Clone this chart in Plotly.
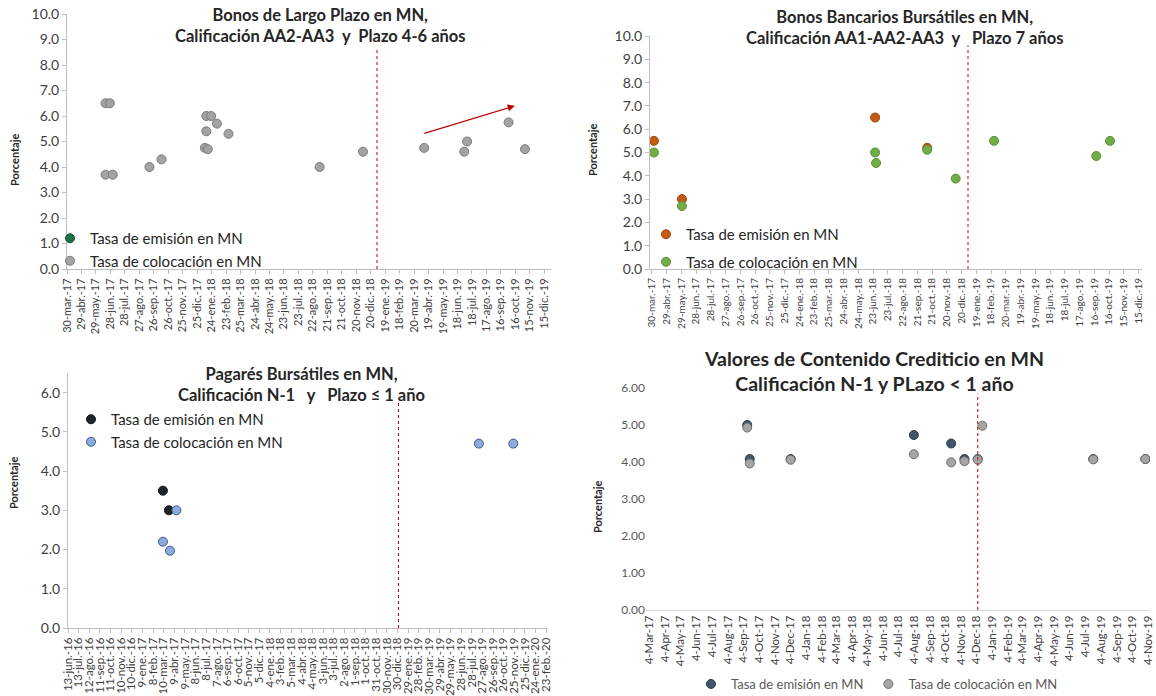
import datetime as dt
import plotly.graph_objects as go

W, H = 1156, 696
FONT = "Lato"

# ---- tick labels -------------------------------------------------------
TICKS_BONOS = ["30-mar.-17", "29-abr.-17", "29-may.-17", "28-jun.-17", "28-jul.-17",
               "27-ago.-17", "26-sep.-17", "26-oct.-17", "25-nov.-17", "25-dic.-17",
               "24-ene.-18", "23-feb.-18", "25-mar.-18", "24-abr.-18", "24-may.-18",
               "23-jun.-18", "23-jul.-18", "22-ago.-18", "21-sep.-18", "21-oct.-18",
               "20-nov.-18", "20-dic.-18", "19-ene.-19", "18-feb.-19", "20-mar.-19",
               "19-abr.-19", "19-may.-19", "18-jun.-19", "18-jul.-19", "17-ago.-19",
               "16-sep.-19", "16-oct.-19", "15-nov.-19", "15-dic.-19"]
TICKS_PAGARES = ["13-jun.-16", "13-jul.-16", "12-ago.-16", "11-sep.-16", "11-oct.-16",
                 "10-nov.-16", "10-dic.-16", "9-ene.-17", "8-feb.-17", "10-mar.-17",
                 "9-abr.-17", "9-may.-17", "8-jun.-17", "8-jul.-17", "7-ago.-17",
                 "6-sep.-17", "6-oct.-17", "5-nov.-17", "5-dic.-17", "4-ene.-18",
                 "3-feb.-18", "5-mar.-18", "4-abr.-18", "4-may.-18", "3-jun.-18",
                 "3-jul.-18", "2-ago.-18", "1-sep.-18", "1-oct.-18", "31-oct.-18",
                 "30-nov.-18", "30-dic.-18", "29-ene.-19", "28-feb.-19", "30-mar.-19",
                 "29-abr.-19", "29-may.-19", "28-jun.-19", "28-jul.-19", "27-ago.-19",
                 "26-sep.-19", "26-oct.-19", "25-nov.-19", "25-dic.-19", "24-ene.-20",
                 "23-feb.-20"]
TICKS_VCC = ["4-Mar-17", "4-Apr-17", "4-May-17", "4-Jun-17", "4-Jul-17", "4-Aug-17",
             "4-Sep-17", "4-Oct-17", "4-Nov-17", "4-Dec-17", "4-Jan-18", "4-Feb-18",
             "4-Mar-18", "4-Apr-18", "4-May-18", "4-Jun-18", "4-Jul-18", "4-Aug-18",
             "4-Sep-18", "4-Oct-18", "4-Nov-18", "4-Dec-18", "4-Jan-19", "4-Feb-19",
             "4-Mar-19", "4-Apr-19", "4-May-19", "4-Jun-19", "4-Jul-19", "4-Aug-19",
             "4-Sep-19", "4-Oct-19", "4-Nov-19"]

# ---- series ------------------------------------------------------------
# Bonos de Largo Plazo (AA2-AA3, 4-6 años)
blp_emi_fechas = [None]
blp_emi_tasas = [None]
blp_col_fechas = ["2017-06-18", "2017-06-27", "2017-06-18", "2017-07-03", "2017-09-17",
                  "2017-10-12", "2018-01-13", "2018-01-23", "2018-02-04", "2018-01-13",
                  "2018-01-10", "2018-01-16", "2018-02-28", "2018-09-05", "2018-12-04",
                  "2019-04-10", "2019-07-02", "2019-07-08", "2019-10-02", "2019-11-05"]
blp_col_tasas = [6.5, 6.5, 3.7, 3.7, 4.0,
                 4.3, 6.0, 6.0, 5.7, 5.4,
                 4.75, 4.7, 5.3, 4.0, 4.6,
                 4.75, 4.6, 5.0, 5.75, 4.7]

# Bonos Bancarios Bursátiles (AA1-AA2-AA3, 7 años)
bbb_emi_fechas = ["2017-04-03", "2017-05-30", "2018-06-27", "2018-10-11"]
bbb_emi_tasas = [5.5, 3.0, 6.5, 5.2]
bbb_col_fechas = ["2017-04-03", "2017-05-30", "2018-06-27", "2018-06-29", "2018-10-11",
                  "2018-12-08", "2019-02-24", "2019-09-20", "2019-10-18"]
bbb_col_tasas = [5.0, 2.7, 5.0, 4.55, 5.12, 3.88, 5.5, 4.85, 5.5]

# Pagarés Bursátiles (N-1, <= 1 año)
pag_emi_fechas = ["2017-03-08", "2017-03-25"]
pag_emi_tasas = [3.5, 3.0]
pag_col_fechas = ["2017-03-08", "2017-03-28", "2017-04-15", "2019-08-17", "2019-11-22"]
pag_col_tasas = [2.2, 1.97, 3.0, 4.7, 4.7]

# Valores de Contenido Crediticio (N-1, < 1 año)
vcc_emi_fechas = ["2017-09-11", "2017-09-16", "2017-12-05", "2018-08-03", "2018-10-15",
                  "2018-11-10", "2018-12-06", "2019-07-20", "2019-10-30"]
vcc_emi_tasas = [5.0, 4.08, 4.08, 4.73, 4.5, 4.08, 4.08, 4.08, 4.08]
vcc_col_fechas = ["2017-09-11", "2017-09-16", "2017-12-05", "2018-08-03", "2018-10-15",
                  "2018-11-10", "2018-12-06", "2018-12-15", "2019-07-20", "2019-10-30"]
vcc_col_tasas = [4.93, 3.96, 4.06, 4.21, 3.99, 4.02, 4.06, 4.98, 4.07, 4.08]

CAMBIO_BONOS = "2019-01-02"
CAMBIO_VCC = "2018-12-06"


def px_x(x):
    return x / W


def px_y(y):
    return 1 - y / H


def step_dates(start, n, days):
    d0 = dt.date.fromisoformat(start)
    return [(d0 + dt.timedelta(days=days * i)).isoformat() for i in range(n)]


def month_dates(start, n):
    d0 = dt.date.fromisoformat(start)
    out = []
    for i in range(n):
        m = d0.month - 1 + i
        out.append(dt.date(d0.year + m // 12, m % 12 + 1, d0.day).isoformat())
    return out


fig = go.Figure()


def marker(color, line, size=9):
    return dict(color=color, size=size, line=dict(color=line, width=1))


def scatter(x, y, name, legend, color, line, xa, ya, group):
    return go.Scatter(x=x, y=y, mode="markers", name=name, legend=legend,
                      legendgroup=group, marker=marker(color, line), xaxis=xa, yaxis=ya)


EMI = "Tasa de emisión en MN"
COL = "Tasa de colocación en MN"

fig.add_trace(scatter(blp_emi_fechas, blp_emi_tasas, EMI, "legend", "#1e7145", "#145030", "x", "y", "e1"))
fig.add_trace(scatter(blp_col_fechas, blp_col_tasas, COL, "legend", "#a3a3a3", "#7a7a7a", "x", "y", "c1"))
fig.add_trace(scatter(bbb_emi_fechas, bbb_emi_tasas, EMI, "legend2", "#c55a11", "#9c4610", "x2", "y2", "e2"))
fig.add_trace(scatter(bbb_col_fechas, bbb_col_tasas, COL, "legend2", "#70ad47", "#5b8f39", "x2", "y2", "c2"))
fig.add_trace(scatter(pag_emi_fechas, pag_emi_tasas, EMI, "legend3", "#1f242c", "#111111", "x3", "y3", "e3"))
fig.add_trace(scatter(pag_col_fechas, pag_col_tasas, COL, "legend3", "#8faadc", "#3a5a8c", "x3", "y3", "c3"))
fig.add_trace(scatter(vcc_emi_fechas, vcc_emi_tasas, EMI, "legend4", "#44546a", "#2f3b4a", "x4", "y4", "e4"))
fig.add_trace(scatter(vcc_col_fechas, vcc_col_tasas, COL, "legend4", "#a5a5a5", "#6f6f6f", "x4", "y4", "c4"))

AX = "#bfbfbf"
TXT = "#404040"


def xaxis(dom, rng, vals, text, anchor, size=10, ticks="outside", linecolor=AX):
    return dict(domain=[px_x(dom[0]), px_x(dom[1])], type="date", range=rng,
                anchor=anchor, tickmode="array", tickvals=vals, ticktext=text,
                tickangle=-90, tickfont=dict(family=FONT, size=size, color=TXT),
                showline=True, linecolor=linecolor, linewidth=1, showgrid=False,
                zeroline=False, ticks=ticks, ticklen=4, tickcolor=linecolor,
                automargin=False, ticklabeloverflow="allow")


def yaxis(dom, rng, dtick, fmt, anchor, size=14, showline=True, ticks="outside", color=TXT):
    return dict(domain=[px_y(dom[1]), px_y(dom[0])], range=rng, dtick=dtick,
                tickformat=fmt, anchor=anchor,
                tickfont=dict(family=FONT, size=size, color=color),
                showline=showline, linecolor=AX, linewidth=1, showgrid=False,
                zeroline=False, ticks=ticks, ticklen=4, tickcolor=AX, automargin=False)


fig.update_layout(
    width=W, height=H, margin=dict(l=0, r=0, t=0, b=0, autoexpand=False),
    paper_bgcolor="white", plot_bgcolor="white",
    font=dict(family=FONT, color=TXT),
    xaxis=xaxis((67, 551), ["2017-03-30", "2019-12-29"],
                step_dates("2017-03-30", len(TICKS_BONOS), 30), TICKS_BONOS, "y", size=11),
    yaxis=yaxis((14, 269), [0, 10], 1, ".1f", "x"),
    xaxis2=xaxis((650, 1142), ["2017-03-26", "2019-12-22"],
                 step_dates("2017-03-30", len(TICKS_BONOS), 30), TICKS_BONOS, "y2", size=10),
    yaxis2=yaxis((36, 269), [0, 10], 1, ".1f", "x2"),
    xaxis3=xaxis((68, 548), ["2016-06-13", "2020-02-28"],
                 step_dates("2016-06-13", len(TICKS_PAGARES), 30), TICKS_PAGARES, "y3",
                 size=11.5),
    yaxis3=yaxis((373, 628), [0, 6.5], 1, ".1f", "x3"),
    xaxis4=xaxis((646, 1150), ["2017-02-25", "2019-11-08"],
                 month_dates("2017-03-04", len(TICKS_VCC)), TICKS_VCC, "y4", size=11.5,
                 ticks="", linecolor="#d9d9d9"),
    yaxis4=yaxis((388, 610), [0, 6], 1, ".2f", "x4", size=12, showline=False,
                 ticks="", color="#595959"),
    showlegend=True,
)

LEG_FONT = dict(family=FONT, size=15, color="#262626")
fig.update_layout(
    legend=dict(x=px_x(50), y=px_y(222), xanchor="left", yanchor="top",
                font=LEG_FONT, bgcolor="rgba(0,0,0,0)", tracegroupgap=0),
    legend2=dict(x=px_x(646), y=px_y(218), xanchor="left", yanchor="top",
                 font=LEG_FONT, bgcolor="rgba(0,0,0,0)", tracegroupgap=5),
    legend3=dict(x=px_x(71), y=px_y(403), xanchor="left", yanchor="top",
                 font=LEG_FONT, bgcolor="rgba(0,0,0,0)", tracegroupgap=0),
    legend4=dict(x=px_x(877), y=px_y(684), xanchor="center", yanchor="middle",
                 orientation="h", font=dict(family=FONT, size=13, color="#595959"),
                 bgcolor="rgba(0,0,0,0)"),
)

# cut-off date markers
RED = "#c00000"
for xr, yr, y_top, xv in [("x", "y", 8.7, CAMBIO_BONOS), ("x2", "y2", 9.6, CAMBIO_BONOS),
                          ("x3", "y3", 5.75, CAMBIO_BONOS), ("x4", "y4", 5.85, CAMBIO_VCC)]:
    fig.add_shape(type="line", xref=xr, yref=yr, x0=xv, x1=xv, y0=0, y1=y_top,
                  line=dict(color=RED, width=1, dash="dot"))

# trend arrow in panel 1
fig.add_annotation(xref="x", yref="y", axref="x", ayref="y",
                   x="2019-10-15", y=6.4, ax="2019-04-07", ay=5.3, text="",
                   showarrow=True, arrowhead=2, arrowsize=1.2, arrowwidth=1.2,
                   arrowcolor=RED)

NBSP = "\u00a0"
TITLES = [
    ("<b>Bonos de Largo Plazo en MN,<br>Calificación AA2-AA3" + NBSP * 2 + "y" + NBSP * 2 + "Plazo 4-6 años</b>", 320, 25, 16.5),
    ("<b>Bonos Bancarios Bursátiles en MN,<br>Calificación AA1-AA2-AA3" + NBSP * 2 + "y" + NBSP * 3 + "Plazo 7 años</b>", 905, 27, 16.5),
    ("<b>Pagarés Bursátiles en MN,<br>Calificación N-1" + NBSP * 3 + "y" + NBSP * 3 + "Plazo ≤ 1 año</b>", 301, 385, 16.5),
    ("<b>Valores de Contenido Crediticio en MN<br>Calificación N-1 y PLazo < 1 año</b>", 874, 371, 19.5),
]
for text, cx, cy, size in TITLES:
    fig.add_annotation(xref="paper", yref="paper", x=px_x(cx), y=px_y(cy), text=text,
                       showarrow=False, xanchor="center", yanchor="middle",
                       font=dict(family=FONT, size=size, color="#262626"))

for cx, cy in [(15, 160), (593, 150), (13, 483), (597, 507)]:
    fig.add_annotation(xref="paper", yref="paper", x=px_x(cx), y=px_y(cy),
                       text="<b>Porcentaje</b>", textangle=-90, showarrow=False,
                       xanchor="center", yanchor="middle",
                       font=dict(family=FONT, size=11, color="#262626"))

fig.write_html("out.html")
